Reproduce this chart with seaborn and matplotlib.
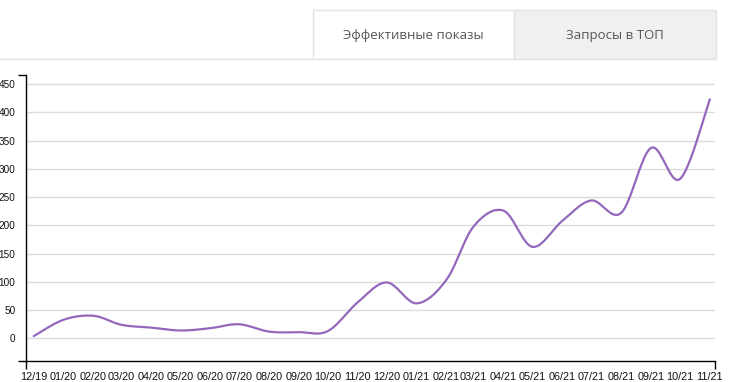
import numpy as np
import pandas as pd
import seaborn as sns
import matplotlib
matplotlib.use("Agg")
import matplotlib.pyplot as plt
import matplotlib.dates as mdates
from matplotlib.patches import Rectangle
from matplotlib.lines import Line2D

# Data
months = pd.date_range(start="2019-12-01", periods=24, freq="MS")
month_labels = ["12/19", "01/20", "02/20", "03/20", "04/20", "05/20", "06/20",
                "07/20", "08/20", "09/20", "10/20", "11/20", "12/20", "01/21",
                "02/21", "03/21", "04/21", "05/21", "06/21", "07/21", "08/21",
                "09/21", "10/21", "11/21"]
values = [4, 33, 40, 24, 19, 14, 18, 25, 12, 11, 13, 64, 99, 62,
          104, 198, 226, 162, 208, 244, 222, 337, 282, 423]
y_ticks = [0, 50, 100, 150, 200, 250, 300, 350, 400, 450]
tab_labels = ["Эффективные показы", "Запросы в ТОП"]

line_color = "#9467bd"
grid_color = "#dcdcdc"

sns.set_theme(style="white")
plt.rcParams["font.family"] = ["Liberation Sans", "DejaVu Sans"]


def cardinal_curve(x, y, steps=24):
    # smooth path through the points, like d3.curveCardinal (tension 0)
    x = np.asarray(x, float)
    y = np.asarray(y, float)
    px = np.concatenate([[x[0]], x, [x[-1]]])
    py = np.concatenate([[y[0]], y, [y[-1]]])
    t = np.linspace(0, 1, steps)[:, None]
    xs, ys = [], []
    for i in range(1, len(px) - 2):
        p0x, p1x, p2x, p3x = px[i - 1], px[i], px[i + 1], px[i + 2]
        p0y, p1y, p2y, p3y = py[i - 1], py[i], py[i + 1], py[i + 2]
        c1x, c1y = p1x + (p2x - p0x) / 6, p1y + (p2y - p0y) / 6
        c2x, c2y = p2x - (p3x - p1x) / 6, p2y - (p3y - p1y) / 6
        b = [(1 - t) ** 3, 3 * (1 - t) ** 2 * t, 3 * (1 - t) * t ** 2, t ** 3]
        xs.append((b[0] * p1x + b[1] * c1x + b[2] * c2x + b[3] * p2x).ravel())
        ys.append((b[0] * p1y + b[1] * c1y + b[2] * c2y + b[3] * p2y).ravel())
    return np.concatenate(xs), np.concatenate(ys)


xnum = mdates.date2num(months)
sx, sy = cardinal_curve(xnum, values)

fig = plt.figure(figsize=(7.36, 3.82), dpi=100)
ax = fig.add_axes([26 / 736, 21 / 382, (714.7 - 26) / 736, (361 - 75) / 382])

for v in y_ticks:
    ax.axhline(v, color=grid_color, lw=1, zorder=1)

sns.lineplot(x=sx, y=sy, ax=ax, color=line_color, lw=1.6, sort=False,
             estimator=None, zorder=3)

x_lo = mdates.date2num(pd.Timestamp("2019-11-23"))
x_hi = mdates.date2num(pd.Timestamp("2021-11-06"))
ax.set_xlim(x_lo, x_hi)
ax.set_ylim(-40, 466)

ax.set_xticks(xnum)
ax.set_xticklabels(month_labels)
ax.set_yticks(y_ticks)
ax.set_yticklabels([str(v) for v in y_ticks])
# outer ticks at the ends of both axes
ax.set_xticks([x_lo, x_hi], minor=True)
ax.set_yticks([-40, 466], minor=True)

ax.tick_params(axis="both", which="both", direction="out", length=6, width=1,
               color="black", labelcolor="#111111")
ax.tick_params(axis="x", which="major", labelsize=7.8, pad=2)
ax.tick_params(axis="y", which="major", labelsize=7.2, pad=1.5)
ax.tick_params(which="minor", bottom=True, left=True)

for side in ["top", "right"]:
    ax.spines[side].set_visible(False)
for side in ["left", "bottom"]:
    ax.spines[side].set_color("black")
    ax.spines[side].set_linewidth(1)
ax.set_xlabel("")
ax.set_ylabel("")

# tabs above the chart
border = "#e3e3e3"
fig.add_artist(Line2D([0, 313 / 736], [(382 - 59) / 382] * 2,
                      transform=fig.transFigure, color=border, lw=1))
fig.add_artist(Rectangle((313 / 736, (382 - 59) / 382), 201 / 736, 49 / 382,
                         transform=fig.transFigure, facecolor="white",
                         edgecolor=border, lw=1))
fig.add_artist(Rectangle((514 / 736, (382 - 59) / 382), 202 / 736, 49 / 382,
                         transform=fig.transFigure, facecolor="#f0f0f0",
                         edgecolor=border, lw=1))
fig.text(413.5 / 736, (382 - 35) / 382, tab_labels[0], ha="center", va="center",
         fontsize=9.5, color="#555555", family=["Open Sans", "DejaVu Sans"])
fig.text(615 / 736, (382 - 35) / 382, tab_labels[1], ha="center", va="center",
         fontsize=9.5, color="#555555", family=["Open Sans", "DejaVu Sans"])

fig.savefig("out.png", dpi=100, facecolor="white")
